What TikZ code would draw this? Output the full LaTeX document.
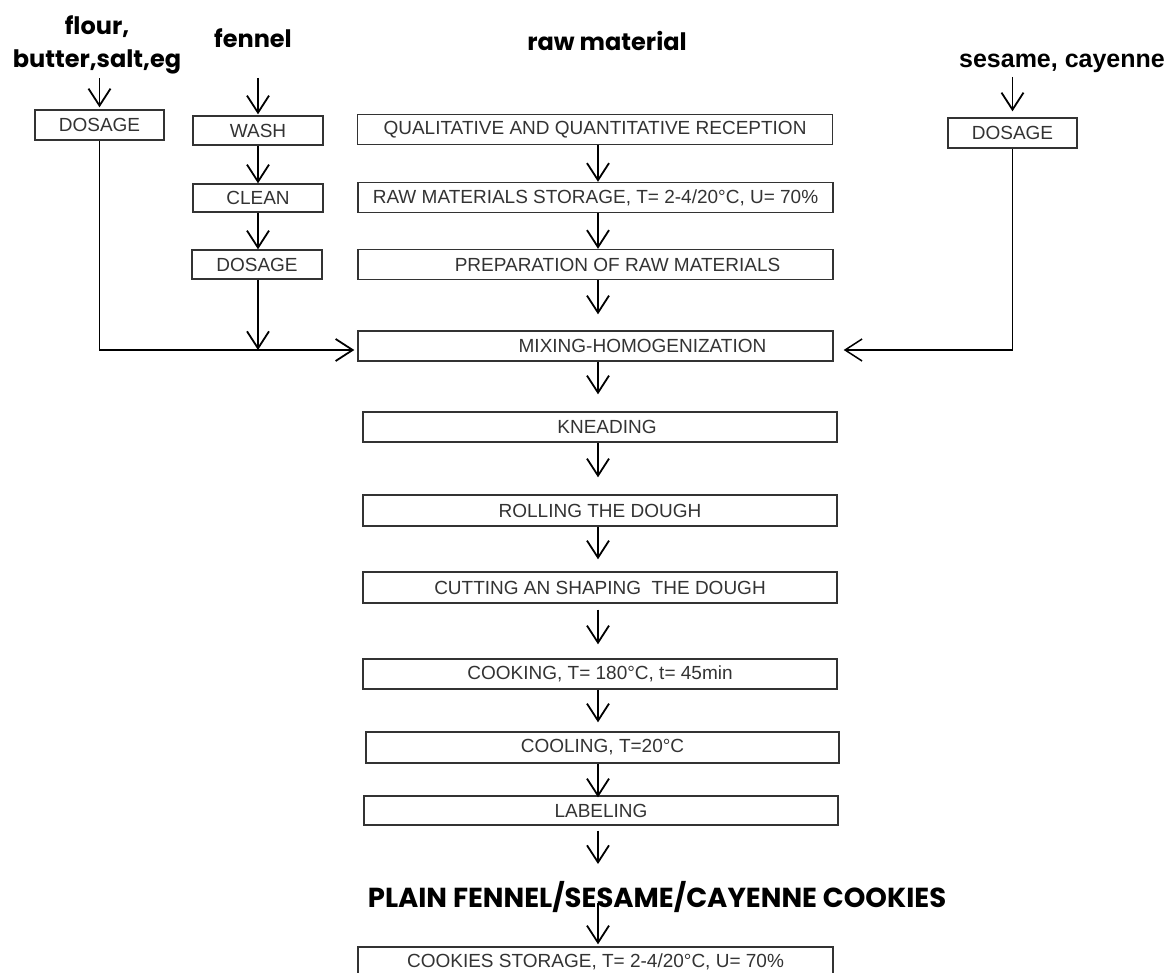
\documentclass[tikz,border=0pt]{standalone}
\usepackage{fontspec}
\setmainfont{Liberation Sans}
\newfontfamily\headfont{Poppins}
\usetikzlibrary{arrows.meta}

\begin{document}
\begin{tikzpicture}[
    x=1pt,
    y=-1pt,
    >={Straight Barb[length=17pt,width=22pt]},
    box/.style={draw=black!80, line width=1.4pt, minimum width=475pt,
        minimum height=30pt, inner sep=0pt, text=black!80,
        font=\fontsize{19}{22}\selectfont},
    smallbox/.style={box, minimum width=130pt},
    head/.style={font=\headfont\bfseries\fontsize{24}{33}\selectfont,
        align=center, inner sep=0pt},
    arr/.style={->, line width=1.8pt}
]
\useasboundingbox (0,0) rectangle (1171,973);
\clip (0,0) rectangle (1171,973);

% column titles
\node[head] (flour) at (97,44.5) {flour,\\butter,salt,eg};
\node[head] (fennel) at (253,38) {fennel};
\node[head] (raw) at (607,41) {raw material};
\node[font=\bfseries\fontsize{25}{30}\selectfont, inner sep=0pt] (sescay) at (1062,63) {sesame, cayenne};

% side lines
\node[smallbox, minimum width=129pt] (dosf) at (99.5,125) {DOSAGE};
\node[smallbox, minimum height=29pt] (wash) at (258,130.5) {WASH};
\node[smallbox, minimum height=28pt] (clean) at (258,198) {CLEAN};
\node[smallbox, minimum height=29pt] (dosn) at (257,264.5) {DOSAGE};
\node[smallbox, minimum width=129pt] (doss) at (1012.5,133) {DOSAGE};

% main line
\node[box] (qual) at (595,129.5) {QUALITATIVE AND QUANTITATIVE RECEPTION};
\node[box] (stor) at (595.5,197.5) {RAW MATERIALS STORAGE, T= 2-4/20°C, U= 70\%};
\node[box] (prep) at (595.5,264.5) {\hspace*{44pt}PREPARATION OF RAW MATERIALS};
\node[box] (mix) at (595.5,346) {\hspace*{94pt}MIXING-HOMOGENIZATION};
\node[box, minimum width=474pt] (knead) at (600,427) {\hspace*{14pt}KNEADING};
\node[box, minimum width=474pt, minimum height=31pt] (roll) at (600,510.5) {ROLLING THE DOUGH};
\node[box, minimum width=474pt, minimum height=31pt] (cut) at (600,587.5) {CUTTING AN SHAPING\ \ THE DOUGH};
\node[box, minimum width=474pt] (cook) at (600,674) {COOKING, T= 180°C, t= 45min};
\node[box, minimum width=473pt, minimum height=31pt] (cool) at (602.5,747.5) {COOLING, T=20°C};
\node[box, minimum width=474pt, minimum height=29pt] (label) at (601,810.5) {LABELING};
\node[font=\headfont\bfseries\fontsize{27.5}{30}\selectfont, inner sep=0pt] (prod) at (657,897) {PLAIN FENNEL/SESAME/CAYENNE COOKIES};
\node[box] (store) at (595.5,962) {COOKIES STORAGE, T= 2-4/20°C, U= 70\%};

% joins into mixing
\coordinate (fjoin) at (258,350);
\coordinate (spine) at (598,0);

% side arrows
\draw[arr, shorten <=34pt, shorten >=2pt] (dosf.north |- flour.center) -- (dosf.north);
\draw[arr, shorten <=40pt, shorten >=1pt] (wash.north |- fennel.center) -- (wash.north);
\draw[arr] (wash) -- (clean);
\draw[arr] (clean) -- (clean |- dosn.north);
\draw[arr] (clean |- dosn.south) -- (fjoin);
\draw[line width=1.4pt] (dosf) |- (fjoin);
\draw[arr, shorten >=3pt] (fjoin) -- (fjoin -| mix.west);
\draw[arr, shorten <=14pt, shorten >=6pt] (doss.north |- sescay.center) -- (doss.north);
\draw[arr, line width=1.5pt, shorten >=10pt] (doss) |- (mix.east |- fjoin);

% main arrows
\draw[arr] (spine |- qual.south) -- (spine |- stor.north);
\draw[arr] (spine |- stor.south) -- (spine |- prep.north);
\draw[arr, shorten >=16pt] (spine |- prep.south) -- (spine |- mix.north);
\draw[arr, shorten >=17pt] (spine |- mix.south) -- (spine |- knead.north);
\draw[arr, shorten >=17pt] (spine |- knead.south) -- (spine |- roll.north);
\draw[arr, shorten >=12pt] (spine |- roll.south) -- (spine |- cut.north);
\draw[arr, shorten <=6pt, shorten >=14pt] (spine |- cut.south) -- (spine |- cook.north);
\draw[arr, shorten >=9pt] (spine |- cook.south) -- (spine |- cool.north);
\draw[arr, shorten >=-2pt] (spine |- cool.south) -- (spine |- label.north);
\draw[arr, shorten <=5pt, shorten >=33pt] (spine |- label.south) -- (spine |- prod.center);
\draw[arr, shorten <=6pt, shorten >=2pt] (spine |- prod.center) -- (spine |- store.north);

\end{tikzpicture}
\end{document}
